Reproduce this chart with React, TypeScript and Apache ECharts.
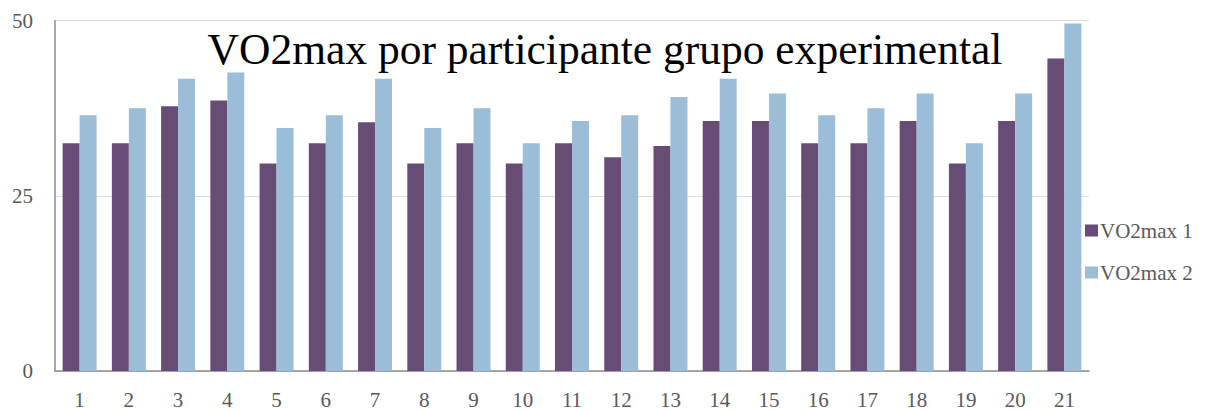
import React, { useEffect, useRef } from "react";
import * as echarts from "echarts";

const categories = ["1","2","3","4","5","6","7","8","9","10","11","12","13","14","15","16","17","18","19","20","21"];
const vo2max1 = [32.5, 32.5, 37.8, 38.6, 29.6, 32.5, 35.5, 29.6, 32.5, 29.6, 32.5, 30.5, 32.1, 35.7, 35.7, 32.5, 32.5, 35.7, 29.6, 35.7, 44.6];
const vo2max2 = [36.5, 37.5, 41.7, 42.6, 34.7, 36.5, 41.7, 34.7, 37.5, 32.5, 35.7, 36.5, 39.1, 41.7, 39.6, 36.5, 37.5, 39.6, 32.5, 39.6, 49.6];
const seriesNames = ["VO2max 1", "VO2max 2"];
const titleText = "VO2max por participante grupo experimental";

const SERIF = "Liberation Serif";

export default function App() {
  const ref = useRef<HTMLDivElement>(null);
  useEffect(() => {
    document.body.style.margin = "0";
    const chart = echarts.init(ref.current!, null, { renderer: "svg" });
    chart.setOption({
      animation: false,
      backgroundColor: "#ffffff",
      textStyle: { fontFamily: SERIF },
      grid: { left: 55, right: 132, top: 20.7, bottom: 38, containLabel: false },
      graphic: [
        {
          type: "text",
          x: 605,
          y: 48.5,
          style: {
            text: titleText,
            font: `43.5px ${SERIF}`,
            fill: "#000000",
            textAlign: "center",
            textVerticalAlign: "middle",
          },
          z: 10,
        },
      ],
      legend: {
        orient: "vertical",
        left: 1080,
        top: 215,
        itemWidth: 13,
        itemHeight: 12,
        itemGap: 21,
        icon: "rect",
        textStyle: { fontFamily: SERIF, fontSize: 21, color: "#595959", padding: [0, 0, 0, -3] },
        data: seriesNames,
      },
      xAxis: {
        type: "category",
        data: categories,
        axisLine: { lineStyle: { color: "#8c8c8c", width: 1.5 } },
        axisTick: { show: false },
        axisLabel: { fontFamily: SERIF, fontSize: 21, color: "#595959", margin: 18 },
      },
      yAxis: {
        type: "value",
        min: 0,
        max: 50,
        interval: 25,
        axisLine: { show: true, lineStyle: { color: "#8c8c8c", width: 1.5 } },
        axisTick: { show: false },
        splitLine: { lineStyle: { color: "#dcdcdc", width: 1 } },
        axisLabel: { fontFamily: SERIF, fontSize: 21, color: "#595959", margin: 22 },
      },
      series: [
        {
          name: seriesNames[0],
          type: "bar",
          data: vo2max1,
          barGap: "0%",
          barCategoryGap: "31%",
          itemStyle: { color: "#674c76" },
        },
        {
          name: seriesNames[1],
          type: "bar",
          data: vo2max2,
          barGap: "0%",
          barCategoryGap: "31%",
          itemStyle: { color: "#9bbdd7" },
        },
      ],
    });
    return () => chart.dispose();
  }, []);
  return <div ref={ref} style={{ width: 1221, height: 410 }} />;
}
